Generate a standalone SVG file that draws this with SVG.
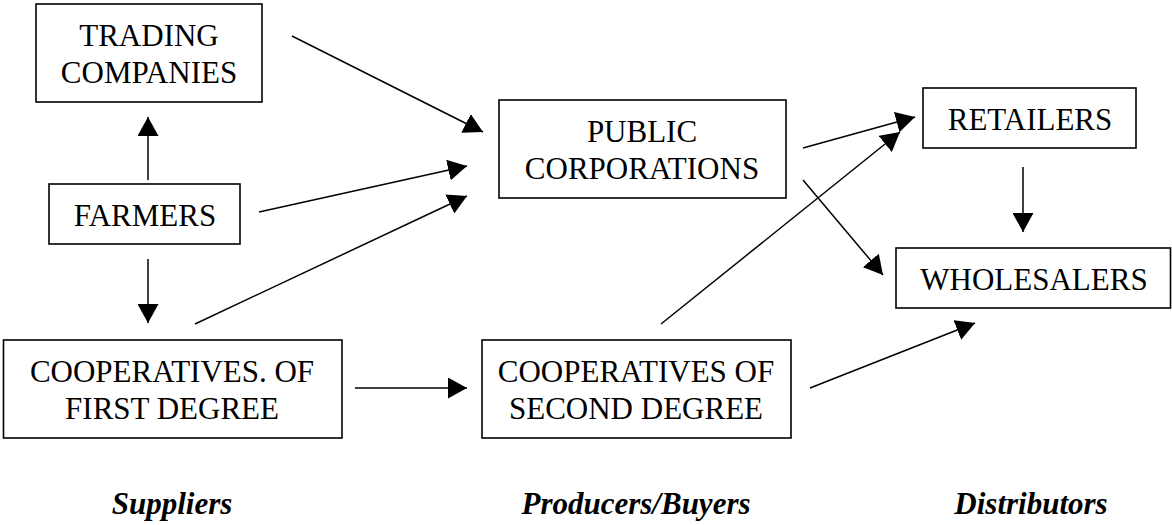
<svg xmlns="http://www.w3.org/2000/svg" width="1172" height="525" viewBox="0 0 1172 525">
<style>
.box{fill:#fff;stroke:#000;stroke-width:1.6}
.t{font-family:"Liberation Serif","Times New Roman",serif;font-size:31px;text-anchor:middle;fill:#000}
.lbl{font-family:"Liberation Serif","Times New Roman",serif;font-size:31px;font-weight:bold;font-style:italic;text-anchor:middle;fill:#000}
.c{stroke:#000;stroke-width:1.5;fill:none;marker-end:url(#ah)}
</style>
<defs>
<marker id="ah" markerUnits="userSpaceOnUse" markerWidth="20" markerHeight="21" refX="19" refY="10.5" orient="auto">
<path d="M0,0 L19,10.5 L0,21 z" fill="#000"/>
</marker>
</defs>
<rect width="1172" height="525" fill="#fff"/>
<g id="connectors">
<line class="c" x1="292" y1="36" x2="483" y2="132"/>
<line class="c" x1="148" y1="180" x2="148" y2="117"/>
<line class="c" x1="148" y1="259" x2="148" y2="323"/>
<line class="c" x1="259" y1="212" x2="467" y2="166"/>
<line class="c" x1="195" y1="324" x2="467" y2="196"/>
<line class="c" x1="355" y1="388" x2="467" y2="388"/>
<line class="c" x1="803" y1="148" x2="915" y2="117"/>
<line class="c" x1="803" y1="180" x2="883" y2="275"/>
<line class="c" x1="661" y1="324" x2="900" y2="132"/>
<line class="c" x1="1023" y1="167" x2="1023" y2="232"/>
<line class="c" x1="810" y1="388" x2="975" y2="323"/>
</g>
<g id="trading">
<rect class="box" x="36" y="4" width="226" height="98"/>
<text class="t" x="149" y="46">TRADING</text>
<text class="t" x="149" y="83">COMPANIES</text>
</g>
<g id="farmers">
<rect class="box" x="49" y="184" width="191" height="60"/>
<text class="t" x="145" y="226">FARMERS</text>
</g>
<g id="coop1">
<rect class="box" x="3.5" y="340" width="338.5" height="98"/>
<text class="t" x="172" y="382">COOPERATIVES. OF</text>
<text class="t" x="172" y="419">FIRST DEGREE</text>
</g>
<g id="public">
<rect class="box" x="499" y="100" width="287" height="98"/>
<text class="t" x="642" y="142">PUBLIC</text>
<text class="t" x="642" y="179">CORPORATIONS</text>
</g>
<g id="coop2">
<rect class="box" x="482" y="340" width="309" height="98"/>
<text class="t" x="636" y="382">COOPERATIVES OF</text>
<text class="t" x="636" y="419">SECOND DEGREE</text>
</g>
<g id="retailers">
<rect class="box" x="923" y="88" width="213" height="60"/>
<text class="t" x="1030" y="130">RETAILERS</text>
</g>
<g id="wholesalers">
<rect class="box" x="896" y="248" width="274.5" height="60"/>
<text class="t" x="1034" y="290">WHOLESALERS</text>
</g>
<g id="labels">
<text class="lbl" x="172" y="514">Suppliers</text>
<text class="lbl" x="636" y="514">Producers/Buyers</text>
<text class="lbl" x="1031" y="514">Distributors</text>
</g>
</svg>
